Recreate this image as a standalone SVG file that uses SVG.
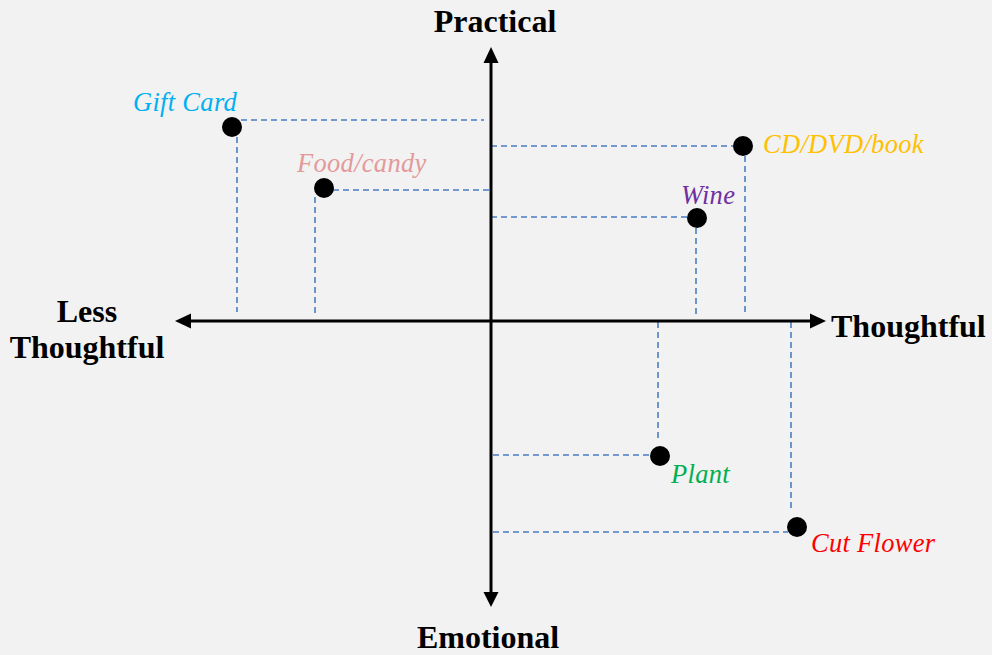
<svg xmlns="http://www.w3.org/2000/svg" width="992" height="655" viewBox="0 0 992 655">
<defs>
<style>
.axis{stroke:#000;stroke-width:3;fill:none}
.dash{stroke:#4A7EC2;stroke-width:1.6;stroke-dasharray:6 4;fill:none}
.dot{fill:#000}
.ax{font-family:"Liberation Serif","Times New Roman",serif;font-weight:bold;font-size:32px;fill:#000}
.lbl{font-family:"Liberation Serif","Times New Roman",serif;font-style:italic;font-size:26.5px;letter-spacing:0.3px}
</style>
</defs>
<rect width="992" height="655" fill="#F2F2F2"/>
<g id="connectors">
<line class="dash" x1="241" y1="120" x2="484" y2="120"/>
<line class="dash" x1="237" y1="137" x2="237" y2="312"/>
<line class="dash" x1="333" y1="190" x2="491" y2="190"/>
<line class="dash" x1="315" y1="197" x2="315" y2="316"/>
<line class="dash" x1="491" y1="146" x2="733" y2="146"/>
<line class="dash" x1="745" y1="156" x2="745" y2="316"/>
<line class="dash" x1="491" y1="217" x2="688" y2="217"/>
<line class="dash" x1="696" y1="228" x2="696" y2="318"/>
<line class="dash" x1="493" y1="455" x2="652" y2="455"/>
<line class="dash" x1="658" y1="322" x2="658" y2="442"/>
<line class="dash" x1="493" y1="532" x2="788" y2="532"/>
<line class="dash" x1="791" y1="322" x2="791" y2="512"/>
</g>
<g id="axes">
<line class="axis" x1="491" y1="60" x2="491" y2="595"/>
<line class="axis" x1="190" y1="321" x2="811" y2="321"/>
<polygon points="491,47 483.5,63 498.5,63"/>
<polygon points="491,607 483.5,592 498.5,592"/>
<polygon points="826,321 810,313.5 810,328.5"/>
<polygon points="175,321 191,313.5 191,328.5"/>
</g>
<g id="axis-practical"><text class="ax" x="495" y="32" text-anchor="middle">Practical</text></g>
<g id="axis-emotional"><text class="ax" x="488" y="648" text-anchor="middle">Emotional</text></g>
<g id="axis-thoughtful"><text class="ax" x="831" y="337">Thoughtful</text></g>
<g id="axis-less"><text class="ax" x="87" y="322" text-anchor="middle">Less</text><text class="ax" x="87" y="358" text-anchor="middle">Thoughtful</text></g>
<g id="gift-card"><circle class="dot" cx="232" cy="127" r="10"/><text class="lbl" x="133" y="111" fill="#00B0F0">Gift Card</text></g>
<g id="food-candy"><circle class="dot" cx="324" cy="188" r="10"/><text class="lbl" x="297" y="172" fill="#E39A9A">Food/candy</text></g>
<g id="cd-dvd-book"><circle class="dot" cx="743" cy="146" r="10"/><text class="lbl" x="763" y="153" fill="#FFC000">CD/DVD/book</text></g>
<g id="wine"><circle class="dot" cx="697" cy="218" r="10"/><text class="lbl" x="681" y="204" fill="#7030A0">Wine</text></g>
<g id="plant"><circle class="dot" cx="660" cy="456" r="10"/><text class="lbl" x="671" y="483" fill="#00B050">Plant</text></g>
<g id="cut-flower"><circle class="dot" cx="797" cy="527" r="10"/><text class="lbl" x="811" y="552" fill="#FF0000">Cut Flower</text></g>
</svg>
